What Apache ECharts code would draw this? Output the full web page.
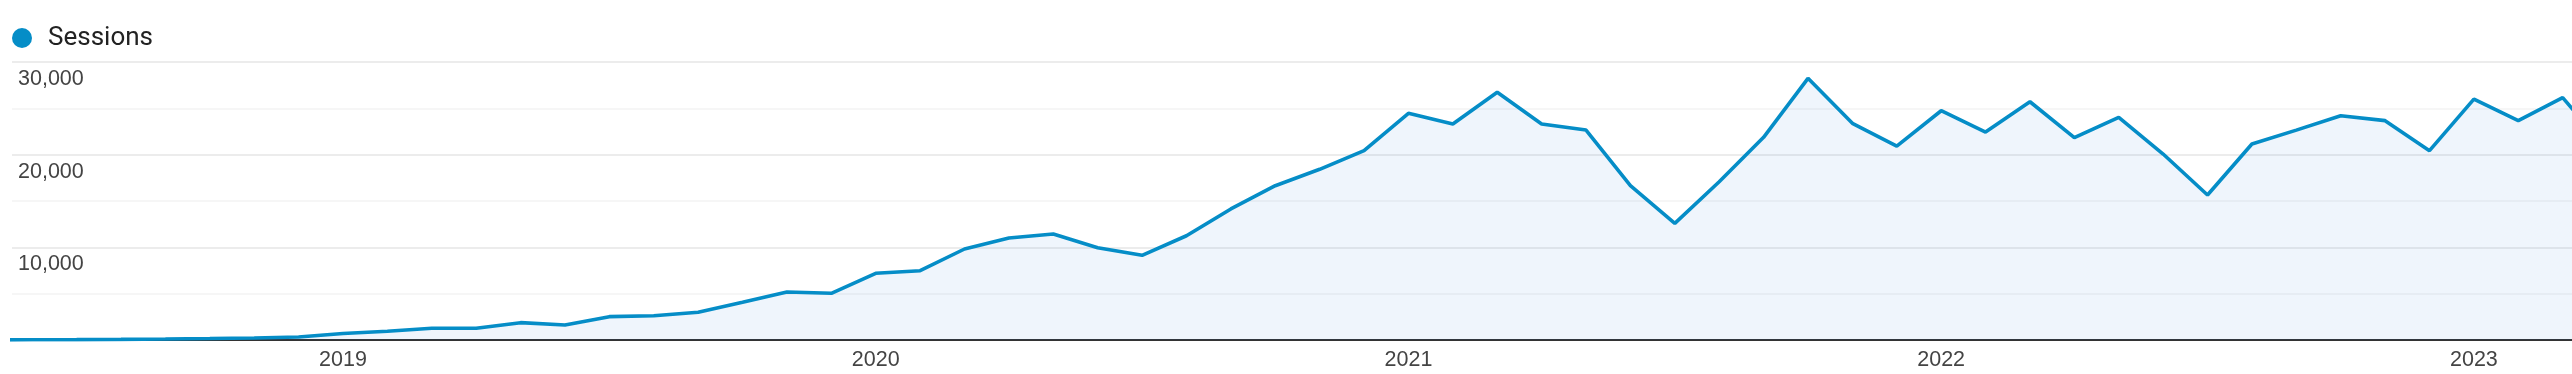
<!DOCTYPE html>
<html>
<head>
<meta charset="utf-8">
<script src="https://cdn.jsdelivr.net/npm/echarts@6/dist/echarts.min.js"></script>
<style>
html,body{margin:0;padding:0;background:#fff;}
#chart{width:2572px;height:374px;}
</style>
</head>
<body>
<div id="chart"></div>
<script>
// Monthly sessions
var months = [
  '2018-05','2018-06','2018-07','2018-08','2018-09','2018-10','2018-11','2018-12',
  '2019-01','2019-02','2019-03','2019-04','2019-05','2019-06','2019-07','2019-08','2019-09','2019-10','2019-11','2019-12',
  '2020-01','2020-02','2020-03','2020-04','2020-05','2020-06','2020-07','2020-08','2020-09','2020-10','2020-11','2020-12',
  '2021-01','2021-02','2021-03','2021-04','2021-05','2021-06','2021-07','2021-08','2021-09','2021-10','2021-11','2021-12',
  '2022-01','2022-02','2022-03','2022-04','2022-05','2022-06','2022-07','2022-08','2022-09','2022-10','2022-11','2022-12',
  '2023-01','2023-02','2023-03','2023-04'
];
var sessions = [
  10, 20, 40, 70, 110, 160, 220, 330,
  700, 950, 1260, 1260, 1870, 1620, 2520, 2620, 2990, 4070, 5180, 5040,
  7200, 7480, 9820, 11010, 11440, 9960, 9140, 11250, 14140, 16650, 18420, 20430,
  24460, 23310, 26730, 23310, 22660, 16650, 12590, 17080, 21870, 28240, 23380, 20930,
  24740, 22440, 25710, 21830, 24030, 20070, 15650, 21150, 22650, 24200, 23670, 20430,
  26000, 23670, 26150, 20600
];
var yearLabels = ['2019','2020','2021','2022','2023'];
var yearMonths = ['2019-01','2020-01','2021-01','2022-01','2023-01'];
var yTickLabels = {10000:'10,000', 20000:'20,000', 30000:'30,000'};
var seriesName = 'Sessions';

function monthIndex(s){
  var p = s.split('-');
  return (parseInt(p[0],10) - 2018) * 12 + (parseInt(p[1],10) - 1);
}
var points = months.map(function(m, i){ return [monthIndex(m), sessions[i]]; });
var yearTicks = yearMonths.map(monthIndex);

var chart = echarts.init(document.getElementById('chart'));
chart.setOption({
  animation: false,
  backgroundColor: '#ffffff',
  legend: {
    left: 12, top: 25, padding: 0,
    icon: 'circle', itemWidth: 20, itemHeight: 20,
    data: [seriesName],
    textStyle: { fontFamily: 'Roboto, Arial, sans-serif', fontSize: 26, color: '#222', padding: [0,0,0,11] }
  },
  grid: { left: 12, right: 0, top: 62, bottom: 34, containLabel: false },
  xAxis: {
    type: 'value',
    min: 4.544, max: 62.21,
    axisLine: { show: true, onZero: false, lineStyle: { color: '#333', width: 2 } },
    axisTick: { show: false },
    splitLine: { show: false },
    axisLabel: {
      customValues: yearTicks,
      margin: 9,
      fontFamily: 'Arial, "Liberation Sans", sans-serif',
      fontSize: 21.5,
      color: '#444',
      formatter: function(v){
        var k = yearTicks.indexOf(Math.round(v));
        return k >= 0 ? yearLabels[k] : '';
      }
    }
  },
  yAxis: {
    type: 'value',
    min: 0, max: 30000, interval: 5000,
    axisLine: { show: false },
    axisTick: { show: false },
    splitLine: { show: true, lineStyle: { color: ['#ececec', '#f6f6f6'], width: 2 } },
    axisLabel: {
      inside: true,
      margin: 6,
      verticalAlign: 'top',
      padding: [6,0,0,0],
      fontFamily: 'Arial, "Liberation Sans", sans-serif',
      fontSize: 21.5,
      color: '#444',
      formatter: function(v){ return yTickLabels[v] || ''; }
    }
  },
  series: [{
    name: seriesName,
    type: 'line',
    data: points,
    symbol: 'none',
    clip: true,
    color: '#058dc7',
    lineStyle: { color: '#058dc7', width: 3.6 },
    areaStyle: { color: 'rgba(25,120,210,0.1)' },
    z: 3
  }]
});
</script>
</body>
</html>
